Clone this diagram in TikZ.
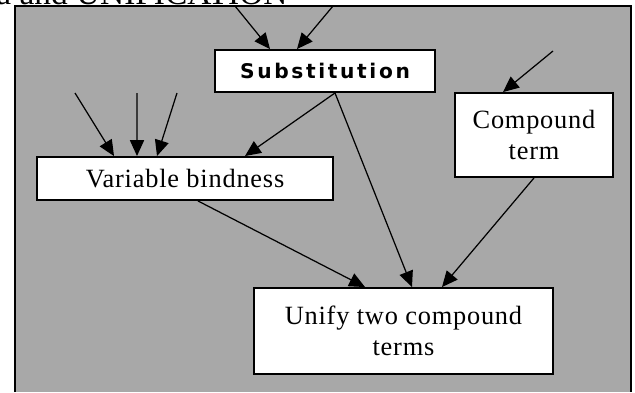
\documentclass[tikz,border=0pt]{standalone}
\usepackage{fontspec}
\setmainfont{Liberation Serif}
\newfontfamily\subfont[LetterSpace=13]{DejaVu Sans}
\newfontfamily\boxfont[LetterSpace=3]{Liberation Serif}
\usetikzlibrary{arrows.meta}

\definecolor{panelgray}{RGB}{168,168,168}
\tikzset{
  box/.style={draw, line width=1.1pt, fill=white, inner sep=0pt, align=center,
    font=\boxfont\fontsize{15}{18}\selectfont},
  link/.style={-{Triangle[length=9pt,width=8pt]}, line width=0.7pt},
}

\begin{document}
\begin{tikzpicture}[x=0.02cm, y=-0.02cm]
\useasboundingbox (0,0) rectangle (635,392);
\clip (0,0) rectangle (635,392);

% panel
\fill[panelgray] (15,6) rectangle (631,392);
\draw[line width=1.1pt] (15,392) -- (15,6) -- (631,6) -- (631,392);
\node[anchor=base west, inner sep=0pt, font=\fontsize{19}{22}\selectfont] (caption) at (-4,5) {a and UNIFICATION};

% boxes
\node[box, minimum width=4.4cm, minimum height=0.84cm] (sub) at (325,71) {\subfont\bfseries\fontsize{11.5}{14}\selectfont Substitution};
\node[box, minimum width=3.16cm, minimum height=1.68cm] (comp) at (534,135) {Compound\\term};
\node[box, minimum width=5.92cm, minimum height=0.86cm] (var) at (185,178.5) {\raisebox{-3pt}{Variable bindness}};
\node[box, minimum width=5.98cm, minimum height=1.72cm] (uni) at (403.5,331) {Unify two compound\\terms};

% free ends
\coordinate (s1) at (235,6);
\coordinate (s2) at (333,6);
\coordinate (v1) at (75,93);
\coordinate (v2) at (137,93);
\coordinate (v3) at (177,93);
\coordinate (c1) at (553,51);

\draw[link] (s1) -- ([xshift=-1.1cm]sub.north);
\draw[link] (s2) -- ([xshift=-0.56cm]sub.north);
\draw[link] (v1) -- ([xshift=-1.42cm]var.north);
\draw[link] (v2) -- ([xshift=-0.96cm]var.north);
\draw[link] (v3) -- ([xshift=-0.56cm]var.north);
\draw[link] (c1) -- ([xshift=-0.62cm]comp.north);
\draw[link] ([xshift=0.2cm]sub.south) -- ([xshift=1.2cm]var.north);
\draw[link] ([xshift=0.2cm]sub.south) -- ([xshift=0.17cm]uni.north);
\draw[link] ([xshift=0.26cm]var.south) -- ([xshift=-0.77cm]uni.north);
\draw[link] (comp.south) -- ([xshift=0.77cm]uni.north);
\end{tikzpicture}
\end{document}
